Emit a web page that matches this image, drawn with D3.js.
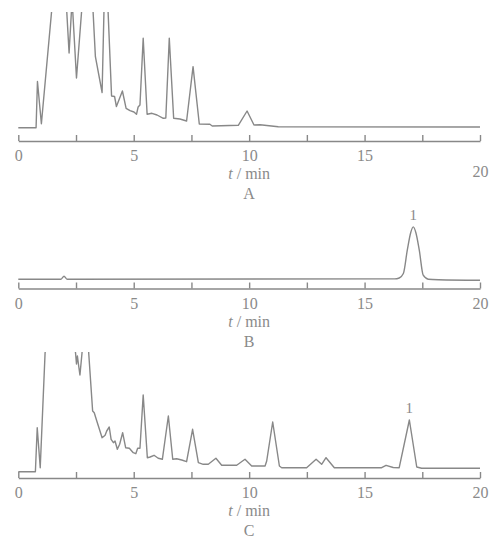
<!DOCTYPE html>
<html>
<head>
<meta charset="utf-8">
<script src="https://cdn.jsdelivr.net/npm/d3@7"></script>
<style>
  html, body { margin: 0; padding: 0; background: #fff; }
  svg text { font-family: "Liberation Serif", "Times New Roman", serif; fill: #8a8a8a; }
</style>
</head>
<body>
<svg id="chart" width="495" height="543"></svg>
<script>
// ---- data (time in min, signal in arbitrary units above the axis) ----
const timeA = [0, 0.77, 0.83, 1.00, 1.44, 1.9, 2.10, 2.20, 2.30, 2.33, 2.36, 2.52, 2.74, 3.2, 3.24, 3.34, 3.63, 3.71, 3.8, 3.89,
  4.04, 4.17, 4.25, 4.51, 4.67, 4.84, 5.01, 5.12, 5.19, 5.27, 5.41, 5.58, 5.79, 6.01, 6.28, 6.39, 6.54, 6.73, 7.00, 7.29,
  7.57, 7.84, 8.30, 8.40, 9.53, 9.91, 10.21, 10.47, 11.26, 20];
const signalA = [13.3, 13.3, 59.5, 17.2, 129, 250, 129, 88, 129, 170, 129, 63, 129, 250, 129, 84.3, 48.5, 129, 170, 129,
  45, 44.5, 34.5, 50, 32.7, 30.3, 29, 26.7, 34, 36, 102.7, 26.7, 27.7, 26, 22.7, 23, 102.7, 22.7, 22, 20,
  74.3, 17, 16.7, 15, 15.7, 30, 16, 16.3, 14.3, 14];

const timeB = [0, 1.85, 1.98, 2.11, 16.3, 16.5, 16.68, 16.85, 17.0, 17.11, 17.22, 17.37, 17.54, 17.76, 18.2, 20];
const signalB = [9.3, 9.3, 12.3, 9.3, 9.6, 10.5, 15, 38.3, 56, 61.6, 56, 38.3, 13.3, 9.3, 8.8, 8.3];

const timeC = [0, 0.74, 0.82, 0.95, 1.16, 1.8, 2.48, 2.52, 2.56, 2.61, 2.67, 2.76, 3.0, 3.05, 3.22, 3.29, 3.40, 3.63, 3.76, 3.83,
  3.94, 4.02, 4.12, 4.19, 4.29, 4.39, 4.52, 4.65, 4.81, 4.98, 5.09, 5.17, 5.27, 5.41, 5.59, 5.71, 5.88, 6.06, 6.24, 6.50,
  6.69, 6.86, 7.08, 7.29, 7.55, 7.80, 8.01, 8.23, 8.56, 8.81, 9.46, 9.82, 10.11, 10.69, 10.76, 11.02, 11.31, 11.41, 12.49, 12.90,
  13.14, 13.33, 13.69, 15.74, 15.93, 16.24, 16.50, 16.94, 17.26, 17.47, 20];
const signalC = [6.3, 6.3, 50.3, 10.3, 125, 250, 125, 114, 122, 113, 103, 125, 250, 125, 67, 65.3, 57, 40.3, 42.7, 47,
  51, 38.7, 35.3, 37, 28.7, 33.7, 45.3, 30.3, 29.7, 25.3, 24.3, 29.7, 29.7, 83, 20.3, 21, 22.7, 19.7, 18.7, 62,
  18.7, 19.3, 18, 16.3, 48.7, 15.3, 13.7, 13.7, 19.7, 12.7, 12.7, 18.7, 12, 12, 17, 56, 12, 10.3, 10.3, 18.7,
  13.7, 20.3, 10.3, 10.3, 12.7, 10.5, 10.3, 58, 11, 9.7, 9.7];

const tickValues = [0, 2.5, 5, 7.5, 10, 12.5, 15, 17.5, 20];
const tickLabels = ["0", "", "5", "", "10", "", "15", "", "20"];
const axisTitle = "min";
const panelLabels = ["A", "B", "C"];
const peakLabels = [
  { panel: 1, t: 17.11, v: 61.6, text: "1" },
  { panel: 2, t: 16.94, v: 58, text: "1" }
];

// ---- layout ----
const svg = d3.select("#chart");
const lineColor = "#888888";
const x = d3.scaleLinear().domain([0, 20]).range([18.3, 480]);

const panels = [
  { time: timeA, signal: signalA, axisY: 141, top: 12, curve: d3.curveLinear },
  { time: timeB, signal: signalB, axisY: 288.5, top: 190, curve: d3.curveMonotoneX },
  { time: timeC, signal: signalC, axisY: 478, top: 352, curve: d3.curveLinear }
];

panels.forEach((p, i) => {
  const y = d3.scaleLinear().domain([0, 130]).range([p.axisY, p.axisY - 130]);
  const g = svg.append("g");

  const clipId = "clip" + i;
  svg.append("clipPath").attr("id", clipId)
    .append("rect")
    .attr("x", 0).attr("y", p.top)
    .attr("width", 495).attr("height", p.axisY - p.top);

  const data = p.time.map((t, k) => [t, p.signal[k]]);
  const line = d3.line().x(d => x(d[0])).y(d => y(d[1])).curve(p.curve);
  g.append("path")
    .datum(data)
    .attr("clip-path", `url(#${clipId})`)
    .attr("d", line)
    .attr("fill", "none")
    .attr("stroke", lineColor)
    .attr("stroke-width", 1.4)
    .attr("stroke-linejoin", "round");

  const axis = d3.axisBottom(x)
    .tickValues(tickValues)
    .tickFormat((d, k) => tickLabels[k])
    .tickSizeInner(-6)
    .tickSizeOuter(0)
    .tickPadding(9);
  const ag = g.append("g").attr("transform", `translate(0,${p.axisY})`).call(axis);
  ag.select(".domain").attr("stroke", lineColor).attr("stroke-width", 1.6);
  ag.selectAll(".tick line").attr("stroke", lineColor).attr("stroke-width", 1.4);
  ag.selectAll(".tick text")
    .attr("fill", "#8a8a8a")
    .style("font-family", '"Liberation Serif", serif')
    .style("font-size", "16px");
  if (i === 0) {
    // in panel A the "20" label sits lower than the others
    ag.selectAll(".tick").filter(d => d === 20).select("text").attr("y", 25);
  }

  const title = g.append("text")
    .attr("x", x(10))
    .attr("y", p.axisY + 38)
    .attr("text-anchor", "middle")
    .style("font-size", "16px");
  title.append("tspan").attr("font-style", "italic").text("t");
  title.append("tspan").text(" / " + axisTitle);

  g.append("text")
    .attr("x", x(10))
    .attr("y", p.axisY + 58)
    .attr("text-anchor", "middle")
    .style("font-size", "16px")
    .text(panelLabels[i]);

  peakLabels.filter(l => l.panel === i).forEach(l => {
    g.append("text")
      .attr("x", x(l.t))
      .attr("y", y(l.v) - 7)
      .attr("text-anchor", "middle")
      .style("font-size", "15px")
      .text(l.text);
  });
});
</script>
</body>
</html>
